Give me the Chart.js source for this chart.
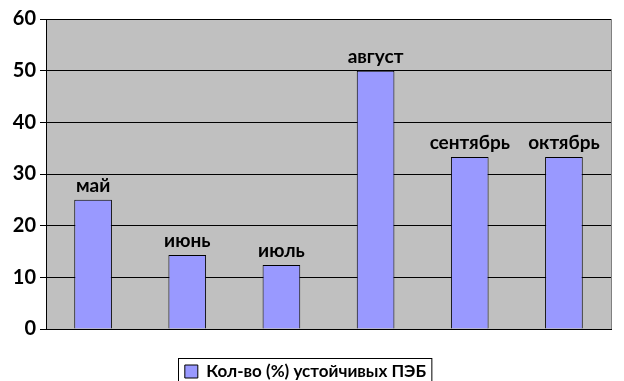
<!DOCTYPE html>
<html>
<head>
<meta charset="utf-8">
<script src="https://cdn.jsdelivr.net/npm/chart.js@4.4.1/dist/chart.umd.min.js"></script>
<style>
  html, body { margin: 0; padding: 0; background: #fff; }
  #wrap { width: 624px; height: 381px; position: relative; }
</style>
</head>
<body>
<div id="wrap"><canvas id="barChart"></canvas></div>
<script>
// data
var months = ['май', 'июнь', 'июль', 'август', 'сентябрь', 'октябрь'];
var stablePct = [25, 14.3, 12.4, 50, 33.3, 33.3];
var seriesName = 'Кол-во (%) устойчивых ПЭБ';
var yTicks = [0, 10, 20, 30, 40, 50, 60];

var plotBg = {
    id: 'plotBg',
    beforeDraw: function(chart) {
        var a = chart.chartArea, ctx = chart.ctx;
        ctx.save();
        ctx.fillStyle = '#c0c0c0';
        ctx.fillRect(a.left, a.top, a.right - a.left, a.bottom - a.top);
        ctx.restore();
    },
    afterDraw: function(chart) {
        var a = chart.chartArea, ctx = chart.ctx;
        ctx.save();
        ctx.strokeStyle = '#808080';
        ctx.lineWidth = 1;
        ctx.beginPath();
        ctx.moveTo(Math.round(a.right) + 0.5, a.top);
        ctx.lineTo(Math.round(a.right) + 0.5, a.bottom);
        ctx.stroke();
        // frame round the legend
        var lg = chart.legend;
        if (lg && lg.legendHitBoxes && lg.legendHitBoxes.length) {
            var hb = lg.legendHitBoxes[0];
            ctx.strokeStyle = '#000';
            ctx.strokeRect(Math.round(hb.left) - 6.5, Math.round(hb.top) - 4.5, hb.width + 12, hb.height + 16);
        }
        ctx.restore();
    }
};

var barLabels = {
    id: 'barLabels',
    afterDatasetsDraw: function(chart) {
        var ctx = chart.ctx;
        var meta = chart.getDatasetMeta(0);
        ctx.save();
        ctx.font = 'bold 19px Lato';
        ctx.fillStyle = '#000';
        ctx.textAlign = 'center';
        ctx.textBaseline = 'alphabetic';
        meta.data.forEach(function(bar, i) {
            ctx.fillText(chart.data.labels[i], bar.x, bar.y - 8);
        });
        ctx.restore();
    }
};

var ctx = document.getElementById('barChart');
new Chart(ctx, {
    type: 'bar',
    data: {
        labels: months,
        datasets: [{
            label: seriesName,
            data: stablePct,
            backgroundColor: '#9999ff',
            borderColor: '#000',
            borderWidth: 1,
            categoryPercentage: 1,
            barPercentage: 0.4
        }]
    },
    options: {
        responsive: true,
        maintainAspectRatio: false,
        animation: false,
        devicePixelRatio: 1,
        layout: { padding: { left: 0, right: 13, top: 19, bottom: -9 } },
        plugins: {
            tooltip: { enabled: false },
            legend: {
                position: 'bottom',
                labels: {
                    color: '#000',
                    font: { family: 'Lato', size: 17, weight: 'bold' },
                    boxWidth: 13,
                    boxHeight: 13,
                    padding: 10
                }
            }
        },
        scales: {
            x: {
                grid: { display: false },
                border: { color: '#000', width: 1 },
                ticks: { display: false },
                afterFit: function(axis) { axis.height = 24; }
            },
            y: {
                min: 0,
                max: 60,
                afterBuildTicks: function(axis) {
                    axis.ticks = yTicks.map(function(v) { return { value: v }; });
                },
                afterFit: function(axis) { axis.width = 46; },
                grid: { color: '#000', tickLength: 6, lineWidth: 1 },
                border: { color: '#000', width: 1 },
                ticks: {
                    color: '#000',
                    padding: 4,
                    font: { family: 'Lato', size: 20, weight: 'bold' }
                }
            }
        }
    },
    plugins: [plotBg, barLabels]
});
</script>
</body>
</html>
